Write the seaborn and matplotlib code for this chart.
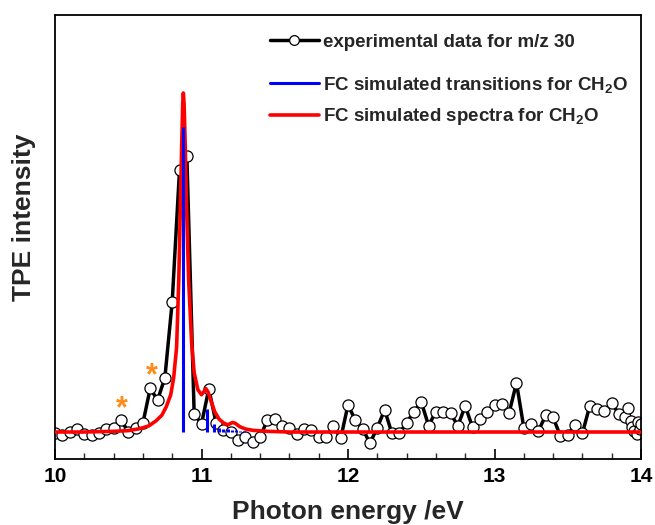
import numpy as np
import pandas as pd
import matplotlib
matplotlib.use("Agg")
import matplotlib.pyplot as plt
import seaborn as sns
from matplotlib.lines import Line2D

# ---------------- data ----------------
exp_energy = [10.00, 10.05, 10.10, 10.15, 10.20, 10.25, 10.30, 10.35, 10.40, 10.45,
              10.50, 10.55, 10.60, 10.65, 10.70, 10.75, 10.80, 10.85, 10.90, 10.95,
              11.00, 11.05, 11.10, 11.15, 11.20, 11.25, 11.30, 11.35, 11.40, 11.45,
              11.50, 11.55, 11.60, 11.65, 11.70, 11.75, 11.80, 11.85, 11.90, 11.95,
              12.00, 12.05, 12.10, 12.15, 12.20, 12.25, 12.30, 12.35, 12.40, 12.45,
              12.50, 12.55, 12.60, 12.65, 12.70, 12.75, 12.80, 12.85, 12.90, 12.95,
              13.00, 13.05, 13.10, 13.15, 13.20, 13.25, 13.30, 13.35, 13.40, 13.45,
              13.50, 13.55, 13.60, 13.65, 13.70, 13.75, 13.80, 13.85, 13.89, 13.91,
              13.93, 13.94, 13.955, 13.97, 13.98, 13.99, 14.00]
exp_intensity = [-0.003, -0.009, 0.001, 0.008, -0.007, -0.009, -0.002, 0.008, 0.011, 0.035,
                 0.001, 0.011, 0.026, 0.129, 0.094, 0.160, 0.384, 0.773, 0.814, 0.053,
                 0.024, 0.127, 0.026, 0.007, 0.001, -0.025, -0.014, -0.029, -0.014, 0.035,
                 0.037, 0.018, 0.011, -0.006, 0.009, 0.006, -0.016, -0.016, 0.018, -0.019,
                 0.080, 0.035, 0.009, -0.033, 0.013, 0.065, -0.004, -0.004, 0.027, 0.060,
                 0.089, 0.019, 0.060, 0.060, 0.055, 0.018, 0.077, 0.014, 0.037, 0.060,
                 0.080, 0.083, 0.057, 0.145, 0.013, 0.024, 0.003, 0.050, 0.043, -0.012,
                 -0.009, 0.021, -0.004, 0.077, 0.067, 0.063, 0.085, 0.053, 0.045, 0.070,
                 0.032, 0.015, 0.003, -0.005, 0.030, 0.010, 0.025]

sim_energy = [10.00, 10.20, 10.40, 10.50, 10.58, 10.64, 10.69, 10.73, 10.76, 10.79,
              10.81, 10.83, 10.845, 10.855, 10.865, 10.872, 10.876, 10.881, 10.888, 10.899,
              10.912, 10.933, 10.95, 10.975, 11.00, 11.015, 11.03, 11.045, 11.06, 11.09,
              11.12, 11.15, 11.18, 11.21, 11.23, 11.26, 11.30, 11.35, 11.45, 11.60,
              12.00, 14.00]
sim_intensity = [0.000, 0.000, 0.002, 0.004, 0.010, 0.018, 0.033, 0.050, 0.075, 0.110,
                 0.160, 0.250, 0.450, 0.650, 0.850, 0.970, 1.000, 0.970, 0.860, 0.650,
                 0.450, 0.260, 0.175, 0.125, 0.110, 0.118, 0.128, 0.118, 0.098, 0.060,
                 0.038, 0.027, 0.021, 0.028, 0.026, 0.016, 0.009, 0.005, 0.002, 0.000,
                 0.000, 0.000]

stick_energy = [10.874, 11.035, 11.085, 11.12, 11.15, 11.18, 11.21, 11.235, 11.26, 11.29]
stick_height = [0.90, 0.068, 0.025, 0.012, 0.008, 0.008, 0.006, 0.006, 0.004, 0.004]

star_energy = [10.457, 10.66]
star_height = [0.068, 0.165]

x_ticks = [10, 11, 12, 13, 14]
labels = ["experimental data for m/z 30",
          "FC simulated transitions for CH$_\\mathbf{2}$O",
          "FC simulated spectra for CH$_\\mathbf{2}$O"]

# ---------------- style ----------------
sns.set_theme(style="white")
plt.rcParams['font.family'] = ['Liberation Sans', 'DejaVu Sans']
plt.rcParams['font.weight'] = 'bold'
plt.rcParams['mathtext.fontset'] = 'custom'
plt.rcParams['mathtext.rm'] = 'Liberation Sans:bold'
plt.rcParams['mathtext.bf'] = 'Liberation Sans:bold'
plt.rcParams['mathtext.it'] = 'Liberation Sans:bold'

fig = plt.figure(figsize=(6.55, 5.25), dpi=100)
ax = fig.add_axes([55/655, 1-459/525, 586/655, 444/525])

exp_df = pd.DataFrame({"E": exp_energy, "I": exp_intensity})
sim_df = pd.DataFrame({"E": sim_energy, "I": sim_intensity})

sns.lineplot(data=exp_df, x="E", y="I", ax=ax, color="black", linewidth=2.5,
             marker="o", markersize=8, markerfacecolor="white",
             markeredgecolor="black", markeredgewidth=0.9,
             estimator=None, sort=False, zorder=2)
sns.lineplot(data=sim_df, x="E", y="I", ax=ax, color="#FF0000", linewidth=2.6,
             estimator=None, sort=False, zorder=3)
ax.vlines(stick_energy, 0, stick_height, colors="#0000FF", linewidth=2.2, zorder=4)

for xe, ye in zip(star_energy, star_height):
    ax.text(xe, ye, "*", color="#FF8C1A", fontsize=22, fontweight="bold",
            ha="center", va="center", zorder=5)

ax.set_xlim(10, 14)
ax.set_ylim(-0.0796, 1.230)
ax.set_xticks(x_ticks)
ax.set_xticklabels([str(t) for t in x_ticks], fontsize=15, fontweight="bold")
ax.set_xticks(np.arange(10, 14.01, 0.2), minor=True)
ax.set_yticks([])
ax.tick_params(axis="x", which="major", direction="in", length=7, width=1.2,
               bottom=True, top=False, pad=6, colors="black")
ax.tick_params(axis="x", which="minor", direction="in", length=4, width=1.0,
               bottom=True, top=False)
for s in ax.spines.values():
    s.set_color("black")
    s.set_linewidth(1.3)

ax.set_xlabel("Photon energy /eV", fontsize=19, fontweight="bold", labelpad=10)
ax.set_ylabel("TPE intensity", fontsize=19, fontweight="bold")
ax.yaxis.set_label_coords(-0.033, 0.545)

h_exp = Line2D([], [], color="black", linewidth=2.5, marker="o", markersize=7,
               markerfacecolor="white", markeredgecolor="black", markeredgewidth=0.9)
h_stk = Line2D([], [], color="#0000FF", linewidth=2.2)
h_sim = Line2D([], [], color="#FF0000", linewidth=2.6)

leg1 = ax.legend(handles=[h_exp], labels=[labels[0]], loc="center left",
                 bbox_to_anchor=(0.367, 0.939), frameon=False,
                 prop={"size": 13.5, "weight": "bold"}, handlelength=2.6,
                 handletextpad=0.2, borderpad=0, borderaxespad=0)
ax.add_artist(leg1)
ax.legend(handles=[h_stk, h_sim], labels=labels[1:], loc="center left",
          bbox_to_anchor=(0.367, 0.806), frameon=False,
          prop={"size": 13.5, "weight": "bold"}, handlelength=2.6,
          handletextpad=0.2, borderpad=0, borderaxespad=0, labelspacing=0.6)

fig.savefig("out.png", dpi=100)
